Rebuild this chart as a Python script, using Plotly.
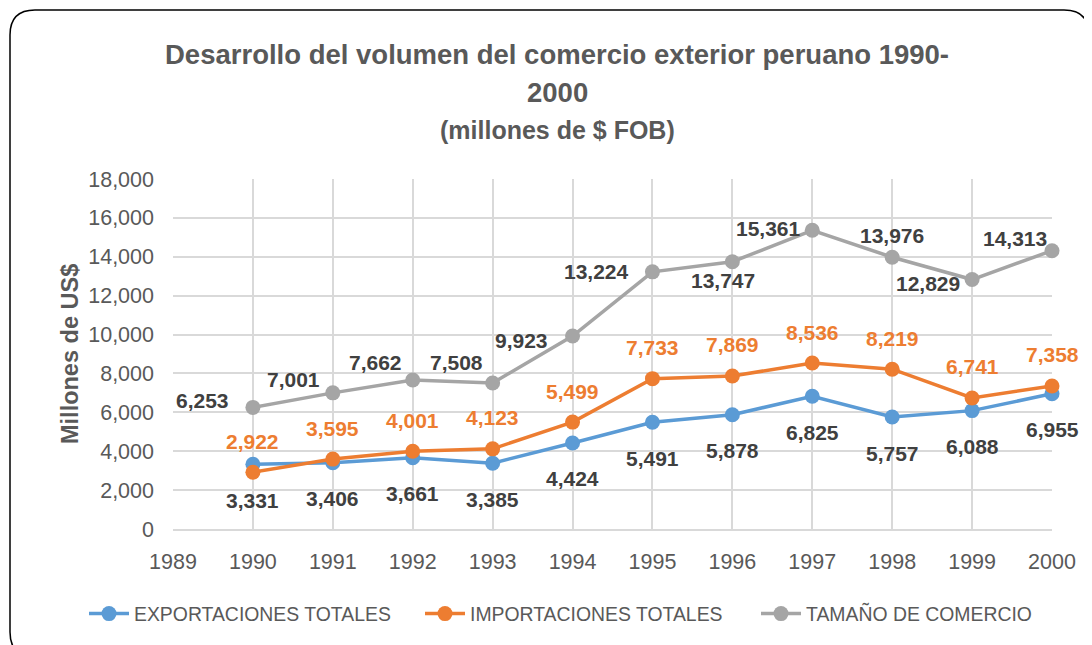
import plotly.graph_objects as go

years = [1990, 1991, 1992, 1993, 1994, 1995, 1996, 1997, 1998, 1999, 2000]
exportaciones = [3331, 3406, 3661, 3385, 4424, 5491, 5878, 6825, 5757, 6088, 6955]
importaciones = [2922, 3595, 4001, 4123, 5499, 7733, 7869, 8536, 8219, 6741, 7358]
tamano = [6253, 7001, 7662, 7508, 9923, 13224, 13747, 15361, 13976, 12829, 14313]
x_ticks = list(range(1989, 2001))
y_ticks = list(range(0, 18001, 2000))

names = ["EXPORTACIONES TOTALES", "IMPORTACIONES TOTALES", "TAMAÑO DE COMERCIO"]
colors = ["#5B9BD5", "#ED7D31", "#A5A5A5"]
label_colors = ["#404040", "#ED7D31", "#404040"]
# data-label offsets in pixels (dx right, dy down), style only
label_offsets = [
    [(0, 36)] * 11,
    [(0, -31)] * 11,
    [(-50, -7), (-39, -13), (-37, -18), (-36, -21), (-51, 4), (-56, 0),
     (-9, 19), (-44, -2), (0, -22), (-44, 4), (-37, -12)],
]

OFF = 8  # page body margin
W, H = 1092 - OFF, 645 - OFF
ML, MR, MT, MB = 173 - OFF, 40, 179 - OFF, 116
PW, PH = W - ML - MR, H - MT - MB


def px(x):
    return (x - OFF - ML) / PW


def py(y):
    return (H - MB - (y - OFF)) / PH


FONT = "Liberation Sans, Arial"
fig = go.Figure()
for vals, name, col, lcol, offs in zip([exportaciones, importaciones, tamano], names, colors,
                                       label_colors, label_offsets):
    fig.add_trace(go.Scatter(
        x=years, y=vals, name=name, mode="lines+markers",
        line=dict(color=col, width=3.5),
        marker=dict(color=col, size=15),
        cliponaxis=False,
    ))
    for xv, yv, (dx, dy) in zip(years, vals, offs):
        fig.add_annotation(x=xv, y=yv, xref="x", yref="y", text=f"{yv:,}", showarrow=False,
                           xshift=dx, yshift=-dy, xanchor="center", yanchor="middle",
                           font=dict(family=FONT, size=21, color=lcol, weight="bold"))

# rounded frame
x0, x1, y0, y1, r = px(10), px(1089), py(10), py(657), 25
rx, ry = r / PW, r / PH
path = (f"M {x0},{y1+ry} L {x0},{y0-ry} Q {x0},{y0} {x0+rx},{y0} "
        f"L {x1-rx},{y0} Q {x1},{y0} {x1},{y0-ry} L {x1},{y1+ry} "
        f"Q {x1},{y1} {x1-rx},{y1} L {x0+rx},{y1} Q {x0},{y1} {x0},{y1+ry} Z")
fig.add_shape(type="path", path=path, xref="paper", yref="paper",
              line=dict(color="#000000", width=1.5), fillcolor="rgba(0,0,0,0)", layer="below")

title_font = dict(family=FONT, color="#595959", weight="bold")
fig.add_annotation(text="Desarrollo del volumen del comercio exterior peruano 1990-",
                   x=px(557), y=py(55), xref="paper", yref="paper", showarrow=False,
                   font=dict(size=27.5, **title_font), xanchor="center", yanchor="middle")
fig.add_annotation(text="2000", x=px(557), y=py(93), xref="paper", yref="paper", showarrow=False,
                   font=dict(size=27.5, **title_font), xanchor="center", yanchor="middle")
fig.add_annotation(text="(millones de $ FOB)", x=px(557), y=py(130), xref="paper", yref="paper",
                   showarrow=False, font=dict(size=25, **title_font), xanchor="center", yanchor="middle")
fig.add_annotation(text="Millones de US$", x=px(70), y=py(354), xref="paper", yref="paper",
                   showarrow=False, textangle=-90, font=dict(size=23.5, **title_font),
                   xanchor="center", yanchor="middle")

fig.update_layout(
    width=W, height=H,
    margin=dict(l=ML, r=MR, t=MT, b=MB),
    paper_bgcolor="white", plot_bgcolor="white",
    showlegend=True,
    legend=dict(orientation="h", x=px(89), y=py(614), xanchor="left", yanchor="middle",
                font=dict(family=FONT, size=19.4, color="#595959"),
                itemwidth=40, entrywidth=281, tracegroupgap=0),
    xaxis=dict(range=[1989, 2000], tickvals=x_ticks, ticktext=[str(t) for t in x_ticks],
               showgrid=True, gridcolor="#D9D9D9", gridwidth=1.5, zeroline=False,
               showline=True, linecolor="#D9D9D9", linewidth=1.5, ticks="",
               tickfont=dict(family=FONT, size=21.5, color="#595959"),
               ticklabelstandoff=12),
    yaxis=dict(range=[0, 18000], tickvals=y_ticks, tickformat=",",
               showgrid=True, gridcolor="#D9D9D9", gridwidth=1.5, zeroline=False,
               showline=False, ticks="",
               tickfont=dict(family=FONT, size=21.5, color="#595959"),
               ticklabelstandoff=18),
)

fig.write_html("out.html")
